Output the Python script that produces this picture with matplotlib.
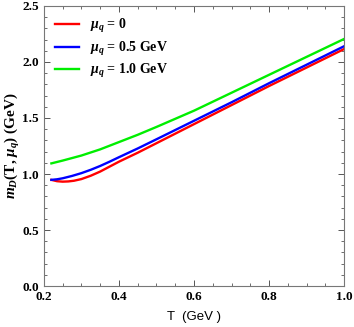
import matplotlib
matplotlib.use("Agg")
import matplotlib.pyplot as plt
from matplotlib.ticker import MultipleLocator

plt.rcParams['mathtext.fontset'] = 'custom'
plt.rcParams['mathtext.it'] = 'Liberation Serif:italic:bold'
plt.rcParams['mathtext.rm'] = 'Liberation Serif:bold'
plt.rcParams['mathtext.bf'] = 'Liberation Serif:bold'

T_red = [0.22, 0.235, 0.25, 0.265, 0.28, 0.30, 0.325, 0.35, 0.375, 0.40, 0.45, 0.50, 0.60, 0.70, 0.80, 0.90, 1.00]
m_red = [0.948, 0.936, 0.932, 0.934, 0.940, 0.955, 0.985, 1.022, 1.066, 1.11, 1.19, 1.275, 1.445, 1.615, 1.785, 1.95, 2.115]

T_blue = [0.22, 0.235, 0.25, 0.275, 0.30, 0.325, 0.35, 0.375, 0.40, 0.45, 0.50, 0.60, 0.70, 0.80, 0.90, 1.00]
m_blue = [0.948, 0.953, 0.962, 0.983, 1.008, 1.038, 1.072, 1.11, 1.15, 1.228, 1.31, 1.475, 1.64, 1.81, 1.975, 2.14]

T_green = [0.22, 0.25, 0.30, 0.35, 0.40, 0.45, 0.50, 0.60, 0.70, 0.80, 0.90, 1.00]
m_green = [1.095, 1.12, 1.165, 1.22, 1.285, 1.35, 1.42, 1.565, 1.725, 1.885, 2.045, 2.205]

labels = [r'$\mu_q$ = 0', r'$\mu_q$ = 0.5 GeV', r'$\mu_q$ = 1.0 GeV']
colors = ['#ff0000', '#0000ff', '#00ee00']

fig = plt.figure(figsize=(3.54, 3.27), dpi=100)
ax = fig.add_axes([0.124, 0.125, 0.848, 0.857])

for T, m, lab, c in zip([T_red, T_blue, T_green], [m_red, m_blue, m_green], labels, colors):
    ax.plot(T, m, color=c, lw=1.7, label=lab)

ax.set_xlim(0.2, 1.0)
ax.set_ylim(0.0, 2.5)
ax.xaxis.set_major_locator(MultipleLocator(0.2))
ax.xaxis.set_minor_locator(MultipleLocator(0.05))
ax.yaxis.set_major_locator(MultipleLocator(0.5))
ax.yaxis.set_minor_locator(MultipleLocator(0.1))
ax.tick_params(which='both', direction='in', top=True, right=True, color='#555555')
ax.tick_params(which='major', length=4, width=0.7)
ax.tick_params(which='minor', length=2, width=0.6)
for s in ax.spines.values():
    s.set_color('#777777')
    s.set_linewidth(0.8)

ax.xaxis.set_major_formatter(matplotlib.ticker.FormatStrFormatter('%.1f'))
ax.yaxis.set_major_formatter(matplotlib.ticker.FormatStrFormatter('%.1f'))
for lbl in ax.get_xticklabels() + ax.get_yticklabels():
    lbl.set_fontfamily('Liberation Serif')
    lbl.set_fontweight('bold')
    lbl.set_fontsize(9.5)

ax.set_xlabel('T  (GeV )', fontfamily='Liberation Sans', fontsize=9.5, labelpad=6)
ax.set_ylabel(r'$m_D$(T, $\mu_q$) (GeV)', fontfamily='Liberation Serif', fontweight='bold', fontsize=11)
ax.yaxis.set_label_coords(-0.072, 0.5)

leg = ax.legend(loc='upper left', frameon=False, prop={'family': 'Liberation Serif', 'weight': 'bold', 'size': 10},
                handlelength=1.7, labelspacing=0.34, borderaxespad=0.4, handletextpad=0.8)

fig.savefig('out.png', dpi=100)
